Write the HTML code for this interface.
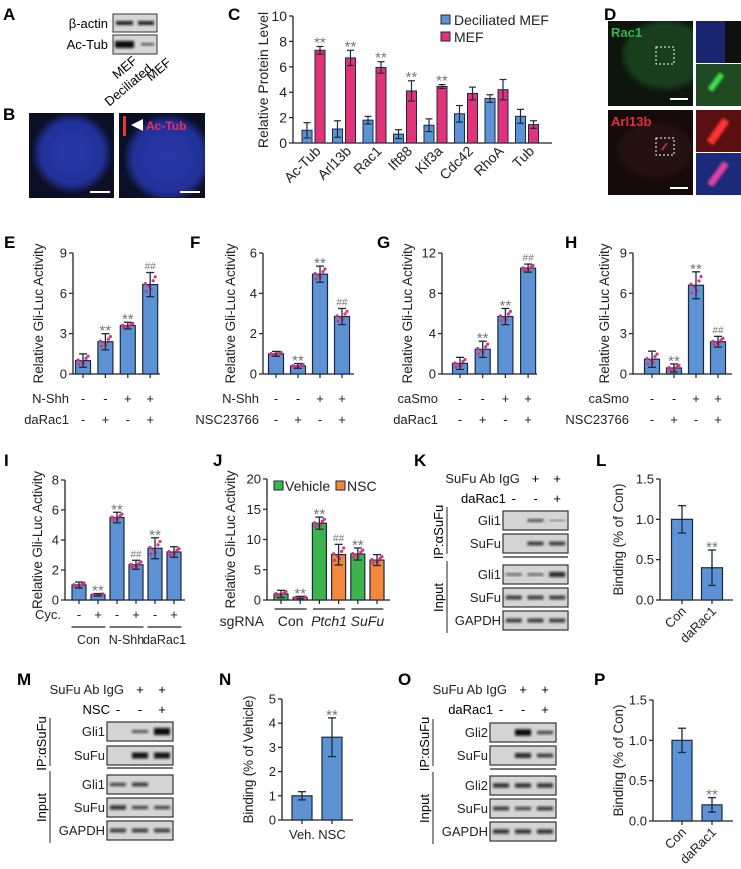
<!DOCTYPE html>
<html><head><meta charset="utf-8"><style>
html,body{margin:0;padding:0;background:#fff}
svg{display:block;font-family:"Liberation Sans",Arial,sans-serif}
</style></head><body>
<svg id="fig" width="741" height="869" viewBox="0 0 741 869" xmlns="http://www.w3.org/2000/svg">
<defs>
<filter id="bl" x="-20%" y="-50%" width="140%" height="200%"><feGaussianBlur stdDeviation="1.2"/></filter>
<filter id="bl3"><feGaussianBlur stdDeviation="3"/></filter>
<radialGradient id="nuc" cx="50%" cy="50%" r="50%"><stop offset="0" stop-color="#2a3aa8"/><stop offset="0.85" stop-color="#22309a"/><stop offset="1" stop-color="#151c50"/></radialGradient>
<clipPath id="cb1"><rect x="29" y="113" width="85" height="85"/></clipPath>
<clipPath id="cb2"><rect x="119" y="113" width="86" height="85"/></clipPath>
<clipPath id="cd1"><rect x="608" y="21" width="85" height="85"/></clipPath>
<clipPath id="cd2"><rect x="608" y="110" width="85" height="85"/></clipPath>
</defs>

<g font-weight="bold" font-size="17" fill="#000">
<text x="3" y="20">A</text>
<text x="3" y="120">B</text>
<text x="228" y="20">C</text>
<text x="604" y="20">D</text>
<text x="4" y="248">E</text>
<text x="190" y="248">F</text>
<text x="377" y="248">G</text>
<text x="565" y="248">H</text>
<text x="4" y="466">I</text>
<text x="213" y="466">J</text>
<text x="414" y="466">K</text>
<text x="596" y="466">L</text>
<text x="17" y="685">M</text>
<text x="219" y="685">N</text>
<text x="398" y="685">O</text>
<text x="594" y="685">P</text>
</g>

<g font-size="13">
<text x="108" y="28" text-anchor="end">β-actin</text>
<text x="108" y="49" text-anchor="end">Ac-Tub</text>
<rect x="113" y="14" width="44" height="18" fill="#d6d6d6" stroke="#333"/>
<rect x="113" y="35" width="44" height="19" fill="#d6d6d6" stroke="#333"/>
<rect x="116" y="21" width="17" height="4" fill="#222" filter="url(#bl)"/>
<rect x="138" y="21" width="16" height="4" fill="#222" filter="url(#bl)"/>
<rect x="115" y="41" width="19" height="7" fill="#111" filter="url(#bl)"/>
<rect x="141" y="43" width="13" height="2.5" fill="#555" filter="url(#bl)"/>
<text transform="translate(138,62) rotate(-40)" text-anchor="end">MEF</text>
<text transform="translate(153,70) rotate(-40)" text-anchor="end">Deciliated</text>
<text transform="translate(172,64) rotate(-40)" text-anchor="end">MEF</text>
</g>

<g>
<rect x="29" y="113" width="85" height="85" fill="#0c1024"/>
<g clip-path="url(#cb1)"><circle cx="72" cy="153" r="38" fill="url(#nuc)" filter="url(#bl3)"/></g>
<rect x="90" y="191" width="20" height="2" fill="#fff"/>
<rect x="119" y="113" width="86" height="85" fill="#0c1024"/>
<g clip-path="url(#cb2)"><circle cx="168" cy="158" r="42" fill="url(#nuc)" filter="url(#bl3)"/></g>
<rect x="123" y="116" width="3" height="20" fill="#e33" />
<polygon points="131,125 143,119 143,131" fill="#fff"/>
<text x="146" y="130" fill="#e8305a" font-weight="bold" font-size="12">Ac-Tub</text>
<rect x="180" y="191" width="20" height="2" fill="#fff"/>
</g>

<g>
<rect x="608" y="21" width="85" height="85" fill="#0c160d"/>
<g clip-path="url(#cd1)"><ellipse cx="665" cy="55" rx="42" ry="34" fill="#1f4a22" opacity="0.8" filter="url(#bl3)"/></g>
<rect x="656" y="47" width="18" height="17" fill="none" stroke="#fff" stroke-dasharray="2,2"/>
<text x="611" y="37" fill="#2eb84a" font-weight="bold" font-size="13">Rac1</text>
<rect x="670" y="98" width="18" height="2" fill="#fff"/>
<rect x="696" y="21" width="45" height="42" fill="#1a2570"/>
<rect x="725" y="21" width="16" height="42" fill="#101010"/>
<rect x="696" y="64" width="45" height="42" fill="#1f4a22"/>
<line x1="710" y1="90" x2="722" y2="74" stroke="#3ee04a" stroke-width="6" filter="url(#bl)"/>
<line x1="696" y1="63.5" x2="741" y2="63.5" stroke="#fff" stroke-dasharray="2,2"/>
<rect x="608" y="110" width="85" height="85" fill="#160a0a"/>
<g clip-path="url(#cd2)"><ellipse cx="655" cy="150" rx="38" ry="28" fill="#2e1212" opacity="0.6" filter="url(#bl3)"/></g>
<rect x="656" y="138" width="18" height="17" fill="none" stroke="#fff" stroke-dasharray="2,2"/>
<line x1="662" y1="150" x2="667" y2="143" stroke="#e33" stroke-width="1.5"/>
<text x="611" y="126" fill="#e0303a" font-weight="bold" font-size="13">Arl13b</text>
<rect x="670" y="187" width="18" height="2" fill="#fff"/>
<rect x="696" y="110" width="45" height="42" fill="#5a1010"/>
<line x1="710" y1="143" x2="726" y2="120" stroke="#ff3030" stroke-width="8" filter="url(#bl)"/>
<rect x="696" y="153" width="45" height="42" fill="#1c2a7a"/>
<line x1="710" y1="185" x2="726" y2="163" stroke="#e040a0" stroke-width="7" filter="url(#bl)"/>
<line x1="696" y1="152.5" x2="741" y2="152.5" stroke="#fff" stroke-dasharray="2,2"/>
</g>

<g id="charts"></g>
<g id="blots"></g>
</svg>
<script>
const cCategories = ["Ac-Tub","Arl13b","Rac1","Ift88","Kif3a","Cdc42","RhoA","Tub"];
const cDeciliated = [1.0,1.1,1.8,0.7,1.4,2.3,3.5,2.1];
const cDeciliatedErr = [0.6,0.65,0.3,0.35,0.5,0.65,0.3,0.55];
const cMEF = [7.3,6.7,5.95,4.1,4.45,3.9,4.2,1.45];
const cMEFErr = [0.3,0.6,0.45,0.8,0.15,0.5,0.8,0.3];
const cSig = ["**","**","**","**","**","","",""];
const cTicks = [0,2,4,6,8,10];

const eValues = [1.0,2.4,3.6,6.65];
const eErr = [0.5,0.6,0.25,0.9];
const eSig = ["","**","**","##"];
const eTicks = [0,3,6,9];
const eRow1 = ["-","-","+","+"];
const eRow2 = ["-","+","-","+"];

const fValues = [1.0,0.4,4.95,2.85];
const fErr = [0.12,0.12,0.4,0.4];
const fSig = ["","**","**","##"];
const fTicks = [0,2,4,6];
const fRow1 = ["-","-","+","+"];
const fRow2 = ["-","+","-","+"];

const gValues = [1.05,2.45,5.7,10.5];
const gErr = [0.6,0.8,0.8,0.4];
const gSig = ["","**","**","##"];
const gTicks = [0,4,8,12];
const gRow1 = ["-","-","+","+"];
const gRow2 = ["-","+","-","+"];

const hValues = [1.1,0.45,6.6,2.4];
const hErr = [0.6,0.3,1.0,0.4];
const hSig = ["","**","**","##"];
const hTicks = [0,3,6,9];
const hRow1 = ["-","-","+","+"];
const hRow2 = ["-","+","-","+"];

const iValues = [1.0,0.35,5.5,2.35,3.45,3.2];
const iErr = [0.2,0.08,0.35,0.3,0.7,0.35];
const iSig = ["","**","**","##","**",""];
const iTicks = [0,2,4,6,8];
const iRow1 = ["-","+","-","+","-","+"];
const iGroups = ["Con","N-Shh","daRac1"];

const jValues = [1.0,0.4,12.7,7.5,7.6,6.6];
const jErr = [0.6,0.2,1.0,1.7,1.0,0.9];
const jSig = ["","**","**","##","**",""];
const jTicks = [0,5,10,15,20];
const jGroups = ["Con","Ptch1","SuFu"];

const lCategories = ["Con","daRac1"];
const lValues = [1.0,0.4];
const lErr = [0.17,0.22];
const lSig = ["","**"];
const lTicks = [0,0.5,1.0,1.5];

const nCategories = ["Veh.","NSC"];
const nValues = [1.0,3.42];
const nErr = [0.17,0.8];
const nSig = ["","**"];
const nTicks = [0,1,2,3,4,5];

const pCategories = ["Con","daRac1"];
const pValues = [1.0,0.2];
const pErr = [0.15,0.09];
const pSig = ["","**"];
const pTicks = [0,0.5,1.0,1.5];

const NS = "http://www.w3.org/2000/svg";
const root = document.getElementById('charts');
function mk(tag, attrs, parent, txt){
  const e = document.createElementNS(NS, tag);
  for (const k in attrs) e.setAttribute(k, attrs[k]);
  if (txt !== undefined) e.textContent = txt;
  (parent || root).appendChild(e);
  return e;
}
const BLUE="#5d92d4", EDGE="#1b2a3f", DOT="#d0387a", ERR="#1b2a3f";
const jit=[-0.35,0.2,-0.1,0.4,0.05,-0.25];
const jx=[-4,3,-1,5,-5,1];

function panel(o){
  const g = mk('g', {});
  
  
  const vals=o.values, max=o.ticks[o.ticks.length-1];
  const y = v => o.bot - (v/max)*(o.bot-o.top);
  const x = i => o.first + i*o.step;
  o.ticks.forEach(t=>{
    mk('line',{x1:o.ax-4,x2:o.ax,y1:y(t),y2:y(t),stroke:"#222","stroke-width":1.2},g);
    const tl = mk('text',{x:o.ax-6,y:y(t)+4.5,"text-anchor":"end","font-size":o.tfs||13,fill:"#222"},g,o.fmt?o.fmt(t):String(t));
    
    
  });
  const ya = mk('line',{x1:o.ax,x2:o.ax,y1:o.top,y2:o.bot,stroke:"#222","stroke-width":1.3},g);
  
  
  const xa = mk('line',{x1:o.ax,x2:o.end,y1:o.bot,y2:o.bot,stroke:"#222","stroke-width":1.3},g);
  
  
  const midy=(o.top+o.bot)/2;
  const tt = mk('text',{transform:`translate(${o.tx},${midy}) rotate(-90)`,"text-anchor":"middle","font-size":o.tfs2||13.5,fill:"#222"},g,o.title);
  if(o.tlen) tt.setAttribute('textLength',o.tlen);
  
  
  vals.forEach((v,i)=>{
    const cx=x(i), col=o.colors?o.colors[i%o.colors.length]:BLUE;
    if(o.xticks) mk('line',{x1:cx,x2:cx,y1:o.bot,y2:o.bot+4,stroke:"#222","stroke-width":1.2},g);
    const b = mk('rect',{x:cx-o.bw/2,y:y(v),width:o.bw,height:o.bot-y(v),fill:col,stroke:EDGE,"stroke-width":1.2},g);
    
    
    if(o.dots){
      jit.forEach((j,k)=>{ mk('circle',{cx:cx+jx[k],cy:y(Math.max(0,v+j*o.err[i]*1.6)),r:1.6,fill:DOT},g); });
    }
    const e=o.err[i];
    mk('line',{x1:cx,x2:cx,y1:y(v+e),y2:y(Math.max(0,v-e)),stroke:ERR,"stroke-width":1.3},g);
    mk('line',{x1:cx-4,x2:cx+4,y1:y(v+e),y2:y(v+e),stroke:ERR,"stroke-width":1.3},g);
    mk('line',{x1:cx-4,x2:cx+4,y1:y(Math.max(0,v-e)),y2:y(Math.max(0,v-e)),stroke:ERR,"stroke-width":1.3},g);
    const s=o.sig[i];
    if(s){
      const st = mk('text',{x:cx,y:y(v+e)-(s=="**"?-2:3),"text-anchor":"middle","font-size":s=="**"?15:10,fill:"#777"},g,s);
      
      
    }
  });
  return {g,x,y};
}

const gliTitle="Relative Gli-Luc Activity";
function pmRows(p, o, rows, labels){
  rows.forEach((row,r)=>{
    const ly=o.rowY[r];
    const lb = mk('text',{x:o.ax-4,y:ly,"text-anchor":"end","font-size":13,fill:"#222"},p.g,labels[r]);
    
    
    row.forEach((s,i)=>{ mk('text',{x:p.x(i),y:ly,"text-anchor":"middle","font-size":13,fill:"#222"},p.g,s); });
  });
}

(function(){
  const o={ax:293,end:552,top:16,bot:143,title:"Relative Protein Level"};
  const g=mk('g',{});
  
  
  const max=cTicks[cTicks.length-1];
  const y=v=>o.bot-(v/max)*(o.bot-o.top);
  const gx=i=>313.5+i*30.5;
  cTicks.forEach(t=>{
    mk('line',{x1:o.ax-4,x2:o.ax,y1:y(t),y2:y(t),stroke:"#222","stroke-width":1.2},g);
    mk('text',{x:o.ax-6,y:y(t)+5,"text-anchor":"end","font-size":14,fill:"#222"},g,String(t));
  });
  mk('line',{x1:o.ax,x2:o.ax,y1:o.top,y2:o.bot,stroke:"#222","stroke-width":1.3},g);
  mk('line',{x1:o.ax,x2:o.end,y1:o.bot,y2:o.bot,stroke:"#222","stroke-width":1.3},g);
  mk('text',{transform:`translate(268,80) rotate(-90)`,"text-anchor":"middle","font-size":14,fill:"#222"},g,o.title);
  function bar(cx,v,e,col,nm){
    const b=mk('rect',{x:cx-5,y:y(v),width:10,height:o.bot-y(v),fill:col,stroke:EDGE,"stroke-width":1},g);
    
    
    mk('line',{x1:cx,x2:cx,y1:y(v+e),y2:y(Math.max(0,v-e)),stroke:ERR,"stroke-width":1.2},g);
    mk('line',{x1:cx-3.5,x2:cx+3.5,y1:y(v+e),y2:y(v+e),stroke:ERR,"stroke-width":1.2},g);
    mk('line',{x1:cx-3.5,x2:cx+3.5,y1:y(Math.max(0,v-e)),y2:y(Math.max(0,v-e)),stroke:ERR,"stroke-width":1.2},g);
  }
  cCategories.forEach((c,i)=>{
    bar(gx(i)-6.5,cDeciliated[i],cDeciliatedErr[i],BLUE,'bar-deciliated-'+c);
    bar(gx(i)+6.5,cMEF[i],cMEFErr[i],"#e2327a",'bar-mef-'+c);
    if(cSig[i]) mk('text',{x:gx(i)+6.5,y:y(cMEF[i]+cMEFErr[i])+1,"text-anchor":"middle","font-size":15,fill:"#777"},g,cSig[i]);
    const t=mk('text',{transform:`translate(${gx(i)+8},${152}) rotate(-45)`,"text-anchor":"end","font-size":14,fill:"#222"},g,c);
    
    
  });
  const l1=mk('rect',{x:441,y:15,width:9,height:9,fill:BLUE,stroke:EDGE},g);
  
  
  mk('text',{x:454,y:25,"font-size":14,fill:"#222"},g,"Deciliated MEF");
  const l2=mk('rect',{x:441,y:32,width:9,height:9,fill:"#e2327a",stroke:EDGE},g);
  
  
  mk('text',{x:454,y:42,"font-size":14,fill:"#222"},g,"MEF");
})();

const rowTop=[403,424];
let o;
o={name:"panel-e-chart",ax:73,end:160,top:253,bot:374,first:83,step:22.4,bw:15,ticks:eTicks,values:eValues,err:eErr,sig:eSig,tx:43,title:gliTitle,tlen:140,dots:1,xticks:1,rowY:rowTop};
pmRows(panel(o),o,[eRow1,eRow2],["N-Shh","daRac1"]);
o={name:"panel-f-chart",ax:263,end:354,top:253,bot:374,first:276,step:22,bw:15,ticks:fTicks,values:fValues,err:fErr,sig:fSig,tx:235,title:gliTitle,tlen:140,dots:1,xticks:1,rowY:rowTop};
pmRows(panel(o),o,[fRow1,fRow2],["N-Shh","NSC23766"]);
o={name:"panel-g-chart",ax:442,end:537,top:253,bot:374,first:460,step:22.7,bw:15,ticks:gTicks,values:gValues,err:gErr,sig:gSig,tx:412,title:gliTitle,tlen:140,dots:1,xticks:1,rowY:rowTop};
pmRows(panel(o),o,[gRow1,gRow2],["caSmo","daRac1"]);
o={name:"panel-h-chart",ax:633,end:732,top:253,bot:374,first:652,step:22,bw:15,ticks:hTicks,values:hValues,err:hErr,sig:hSig,tx:609,title:gliTitle,tlen:140,dots:1,xticks:1,rowY:rowTop};
pmRows(panel(o),o,[hRow1,hRow2],["caSmo","NSC23766"]);

o={name:"panel-i-chart",ax:65,end:185,top:480,bot:600,first:79,step:19,bw:14,ticks:iTicks,values:iValues,err:iErr,sig:iSig,tx:42,title:gliTitle,tlen:138,dots:1,xticks:1,rowY:[619]};
(function(){
  const p=panel(o);
  pmRows(p,o,[iRow1],["Cyc."]);
  iGroups.forEach((gname,k)=>{
    const cx=(p.x(2*k)+p.x(2*k+1))/2;
    mk('line',{x1:cx-17,x2:cx+17,y1:627,y2:627,stroke:"#222","stroke-width":1.2},p.g);
    const t=mk('text',{x:cx,y:644,"text-anchor":"middle","font-size":12.5,fill:"#222"},p.g,gname);
    
    
  });
})();

o={name:"panel-j-chart",ax:267,end:390,top:479,bot:600,first:281,step:19.2,bw:14,ticks:jTicks,values:jValues,err:jErr,sig:jSig,tx:235,title:gliTitle,tlen:138,dots:1,xticks:1,colors:["#3cb44b","#f3883a"]};
(function(){
  const p=panel(o);
  jGroups.forEach((gname,k)=>{
    const cx=(p.x(2*k)+p.x(2*k+1))/2;
    mk('line',{x1:cx-16,x2:cx+16,y1:609,y2:609,stroke:"#222","stroke-width":1.2},p.g);
    const t=mk('text',{x:cx,y:626,"text-anchor":"middle","font-size":14,fill:"#222","font-style":k?"italic":"normal"},p.g,gname);
    
    
  });
  mk('text',{x:264,y:626,"text-anchor":"end","font-size":14,fill:"#222"},p.g,"sgRNA");
  const s1=mk('rect',{x:274,y:481,width:9,height:9,fill:"#3cb44b",stroke:EDGE},p.g);
  
  
  mk('text',{x:285,y:491,"font-size":14,fill:"#222"},p.g,"Vehicle");
  const s2=mk('rect',{x:336,y:481,width:9,height:9,fill:"#f3883a",stroke:EDGE},p.g);
  
  
  mk('text',{x:347,y:491,"font-size":14,fill:"#222"},p.g,"NSC");
})();

function catLabels(p,cats,rot,yy){
  cats.forEach((c,i)=>{
    const t = rot ? mk('text',{transform:`translate(${p.x(i)+5},${yy}) rotate(-45)`,"text-anchor":"end","font-size":13,fill:"#222"},p.g,c)
                  : mk('text',{x:p.x(i),y:yy,"text-anchor":"middle","font-size":13,fill:"#222"},p.g,c);
    
    
  });
}
const f1=v=>v.toFixed(1);
o={name:"panel-l-chart",ax:660,end:733,top:479,bot:600,first:682,step:30,bw:21,ticks:lTicks,values:lValues,err:lErr,sig:lSig,tx:623,title:"Binding (% of Con)",tlen:112,fmt:f1,xticks:1};
catLabels(panel(o),lCategories,1,612);
o={name:"panel-n-chart",ax:282,end:353,top:699,bot:820,first:302,step:30,bw:20,ticks:nTicks,values:nValues,err:nErr,sig:nSig,tx:253,title:"Binding (% of Vehicle)",tlen:128,xticks:1};
catLabels(panel(o),nCategories,0,839);
o={name:"panel-p-chart",ax:653,end:733,top:700,bot:821,first:682,step:30,bw:20,ticks:pTicks,values:pValues,err:pErr,sig:pSig,tx:623,title:"Binding (% of Con)",tlen:112,fmt:f1,xticks:1};
catLabels(panel(o),pCategories,1,833);

const blots=document.getElementById('blots');
function blot(cfg){
  const g=mk('g',{},blots);
  
  
  const lane=i=>cfg.bx+(cfg.bw/3)*(i+0.5);
  mk('text',{x:lane(0)+6,y:cfg.hy,"text-anchor":"end","font-size":13,fill:"#222"},g,"SuFu Ab IgG");
  ["+","+"].forEach((s,i)=>mk('text',{x:lane(i+1),y:cfg.hy,"text-anchor":"middle","font-size":13},g,s));
  mk('text',{x:lane(0)-8,y:cfg.hy+20,"text-anchor":"end","font-size":13},g,cfg.treat);
  ["-","-","+"].forEach((s,i)=>mk('text',{x:lane(i),y:cfg.hy+20,"text-anchor":"middle","font-size":13},g,s));
  cfg.rows.forEach(r=>{
    mk('text',{x:cfg.bx-2,y:r.y+14,"text-anchor":"end","font-size":13,fill:"#222"},g,r.label);
    const bx=mk('rect',{x:cfg.bx,y:r.y,width:cfg.bw,height:19,fill:"#d4d4d4",stroke:"#333","stroke-width":1.2},g);
    
    
    r.bands.forEach((a,i)=>{ if(a>0) mk('rect',{x:lane(i)-8,y:r.y+9.5-a*2.5,width:16,height:a*5,fill:"#111",opacity:Math.min(1,0.35+a*0.5),filter:"url(#bl)"},g); });
  });
  mk('line',{x1:cfg.bx,x2:cfg.bx+cfg.bw,y1:cfg.div,y2:cfg.div,stroke:"#222","stroke-width":1.2},g);
  mk('line',{x1:cfg.lx,x2:cfg.lx,y1:cfg.rows[0].y-4,y2:cfg.rows[1].y+20,stroke:"#222"},g);
  mk('line',{x1:cfg.lx,x2:cfg.lx,y1:cfg.rows[2].y-4,y2:cfg.rows[4].y+22,stroke:"#222"},g);
  mk('text',{transform:`translate(${cfg.lx-4},${(cfg.rows[0].y+cfg.rows[1].y+19)/2}) rotate(-90)`,"text-anchor":"middle","font-size":13},g,"IP:αSuFu");
  mk('text',{transform:`translate(${cfg.lx-4},${(cfg.rows[2].y+cfg.rows[4].y+19)/2}) rotate(-90)`,"text-anchor":"middle","font-size":13},g,"Input");
}
blot({name:"panel-k-blot",bx:503,bw:65,hy:483,treat:"daRac1",div:557,lx:447,rows:[
 {label:"Gli1",y:511,bands:[0,0.6,0.3]},{label:"SuFu",y:534,bands:[0,0.8,0.8]},
 {label:"Gli1",y:565,bands:[0.5,0.5,1.0]},{label:"SuFu",y:588,bands:[0.8,0.8,0.8]},{label:"GAPDH",y:611,bands:[0.8,0.8,0.8]}]});
blot({name:"panel-m-blot",bx:107,bw:66,hy:694,treat:"NSC",div:768,lx:50,rows:[
 {label:"Gli1",y:722,bands:[0,0.6,1.4]},{label:"SuFu",y:746,bands:[0,1.2,1.2]},
 {label:"Gli1",y:775,bands:[0.7,0.8,0]},{label:"SuFu",y:798,bands:[0.9,0.7,0.7]},{label:"GAPDH",y:821,bands:[0.8,0.8,0.8]}]});
blot({name:"panel-o-blot",bx:490,bw:66,hy:694,treat:"daRac1",div:769,lx:433,rows:[
 {label:"Gli2",y:723,bands:[0,1.3,0.7]},{label:"SuFu",y:746,bands:[0,1.0,0.8]},
 {label:"Gli2",y:776,bands:[0.9,0.9,0.9]},{label:"SuFu",y:799,bands:[0.8,0.7,0.8]},{label:"GAPDH",y:822,bands:[0.9,0.9,0.9]}]});
</script>
</body></html>
